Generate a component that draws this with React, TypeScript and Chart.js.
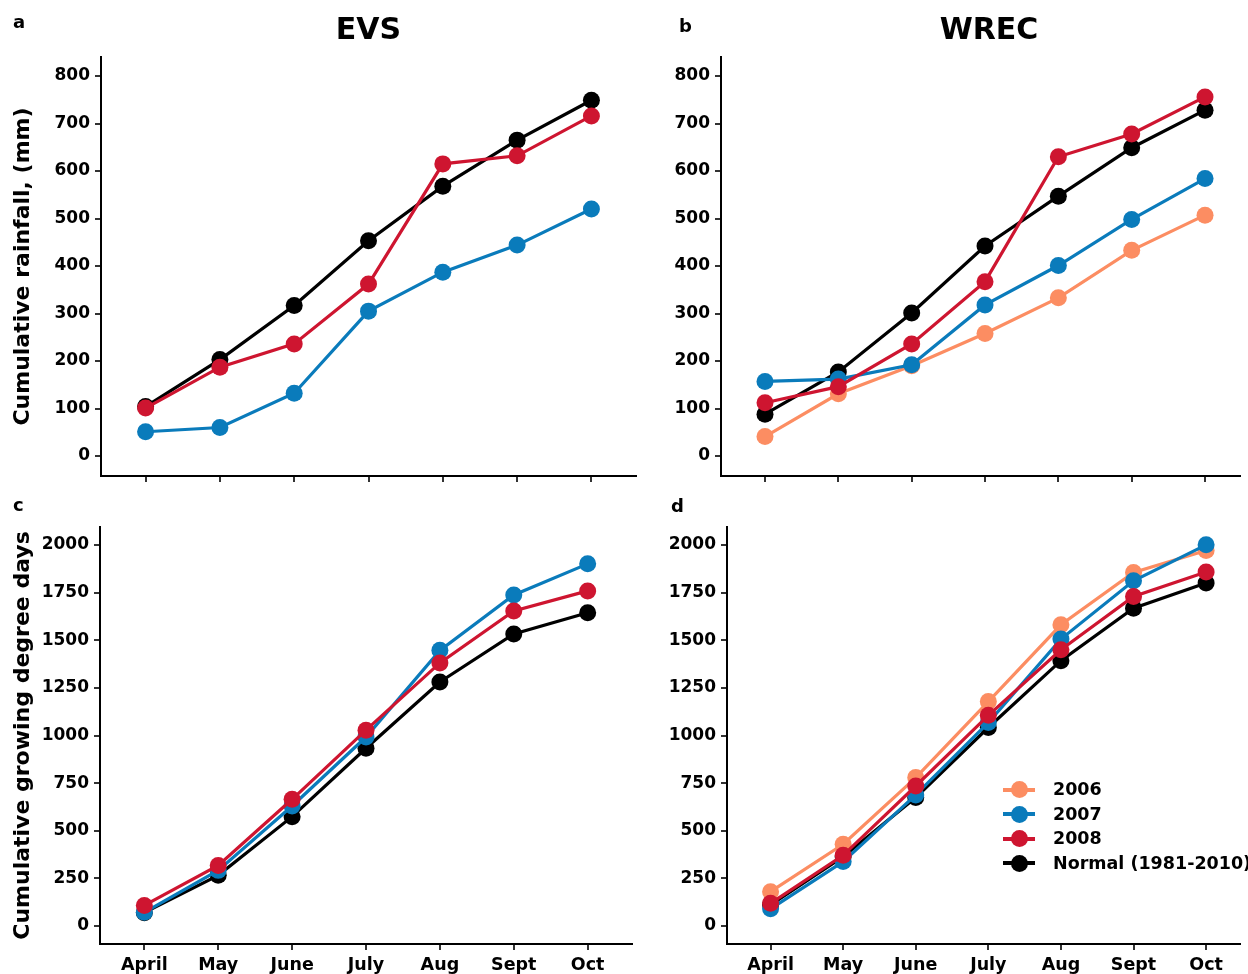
import React, { useEffect, useRef } from 'react';
import { Chart, registerables } from 'chart.js';

Chart.register(...registerables);

const months = ['April', 'May', 'June', 'July', 'Aug', 'Sept', 'Oct'];
const legendNames = ['2006', '2007', '2008', 'Normal (1981-2010)'];
const legendColors = ['#FC8D62', '#0A7BBB', '#CE1530', '#000000'];

const rainTicks = [0, 100, 200, 300, 400, 500, 600, 700, 800];
const gddTicks = [0, 250, 500, 750, 1000, 1250, 1500, 1750, 2000];

// EVS rainfall (mm)
const evsRain2007 = [51, 60, 132, 305, 387, 444, 520];
const evsRain2008 = [101, 187, 236, 362, 615, 632, 716];
const evsRainNormal = [104, 203, 317, 453, 568, 665, 749];

// WREC rainfall (mm)
const wrecRain2006 = [41, 131, 190, 258, 333, 433, 507];
const wrecRain2007 = [157, 162, 192, 318, 401, 498, 584];
const wrecRain2008 = [112, 146, 236, 367, 630, 678, 756];
const wrecRainNormal = [88, 177, 301, 442, 547, 649, 728];

// EVS growing degree days
const evsGdd2007 = [72, 292, 630, 992, 1447, 1738, 1901];
const evsGdd2008 = [108, 318, 665, 1028, 1381, 1654, 1759];
const evsGddNormal = [70, 266, 574, 933, 1281, 1533, 1644];

// WREC growing degree days
const wrecGdd2006 = [180, 429, 779, 1178, 1581, 1856, 1971];
const wrecGdd2007 = [90, 338, 688, 1068, 1506, 1812, 2001];
const wrecGdd2008 = [119, 371, 735, 1106, 1450, 1730, 1858];
const wrecGddNormal = [110, 364, 674, 1042, 1393, 1668, 1800];

const FONT = 'DejaVu Sans';

type Series = { name: string; color: string; values: number[] };

type PanelProps = {
  series: Series[]; // first = drawn on top
  yTicks: number[];
  yMin: number;
  yMax: number;
  xMax: number;
  pad: { left: number; top: number; right: number; bottom: number };
  yWidth: number;
  xHeight: number;
  showXLabels: boolean;
  yTitle?: string;
};

function Panel(p: PanelProps) {
  const ref = useRef<HTMLCanvasElement>(null);
  useEffect(() => {
    const tickFont = { family: FONT, size: 17, weight: 'bold' as const };
    const chart = new Chart(ref.current!, {
      type: 'line',
      data: {
        datasets: p.series.map((s) => ({
          label: s.name,
          data: s.values.map((v, i) => ({ x: i, y: v })),
          borderColor: s.color,
          backgroundColor: s.color,
          pointBackgroundColor: s.color,
          pointBorderWidth: 0,
          pointRadius: 8.5,
          borderWidth: 3.2,
          tension: 0,
          clip: false as any,
        })),
      },
      options: {
        animation: false,
        responsive: false,
        maintainAspectRatio: false,
        events: [],
        layout: { padding: p.pad },
        plugins: {
          legend: { display: false },
          tooltip: { enabled: false },
          title: { display: false },
        },
        scales: {
          x: {
            type: 'linear',
            min: -0.6,
            max: p.xMax,
            afterBuildTicks: (s: any) => {
              s.ticks = months.map((_, i) => ({ value: i }));
            },
            afterFit: (s: any) => {
              s.height = p.xHeight;
            },
            ticks: {
              display: p.showXLabels,
              autoSkip: false,
              maxRotation: 0,
              padding: 5,
              color: '#000',
              font: { family: FONT, size: 17.5, weight: 'bold' as const },
              callback: (v: any) => months[Number(v)] ?? '',
            },
            grid: {
              drawOnChartArea: false,
              drawTicks: true,
              tickLength: 6,
              color: '#333',
              lineWidth: 2,
            },
            border: { display: true, color: '#000', width: 2 },
          },
          y: {
            type: 'linear',
            min: p.yMin,
            max: p.yMax,
            afterBuildTicks: (s: any) => {
              s.ticks = p.yTicks.map((v) => ({ value: v }));
            },
            afterFit: (s: any) => {
              s.width = p.yWidth;
            },
            ticks: {
              padding: 5,
              color: '#000',
              font: tickFont,
              callback: (v: any) => String(v),
            },
            grid: {
              drawOnChartArea: false,
              drawTicks: true,
              tickLength: 6,
              color: '#333',
              lineWidth: 2,
            },
            border: { display: true, color: '#000', width: 2 },
            title: p.yTitle
              ? {
                  display: true,
                  text: p.yTitle,
                  color: '#000',
                  font: { family: FONT, size: 22, weight: 'bold', lineHeight: 1 },
                  padding: { top: 12, bottom: 0 },
                }
              : { display: false },
          },
        },
      },
    });
    return () => chart.destroy();
  }, []);
  return (
    <canvas
      ref={ref}
      width={1248}
      height={974}
      style={{ position: 'absolute', left: 0, top: 0, width: 1248, height: 974 }}
    />
  );
}

const S = (i: number, values: number[]): Series => ({
  name: legendNames[i],
  color: legendColors[i],
  values,
});

const textBase: React.CSSProperties = {
  position: 'absolute',
  fontFamily: FONT,
  fontWeight: 'bold',
  color: '#000',
  whiteSpace: 'nowrap',
  margin: 0,
};

function Label({ text, left, top, size, center }: { text: string; left: number; top: number; size: number; center?: boolean }) {
  return (
    <div
      style={{
        ...textBase,
        left,
        top,
        fontSize: size,
        lineHeight: `${size}px`,
        transform: center ? 'translateX(-50%)' : undefined,
      }}
    >
      {text}
    </div>
  );
}

function Legend() {
  const rowY = [789.5, 814, 838.5, 863];
  return (
    <>
      {legendNames.map((n, i) => (
        <React.Fragment key={n}>
          <div
            style={{
              position: 'absolute',
              left: 1003,
              top: rowY[i] - 2,
              width: 32,
              height: 4,
              background: legendColors[i],
            }}
          />
          <div
            style={{
              position: 'absolute',
              left: 1019 - 8.5,
              top: rowY[i] - 8.5,
              width: 17,
              height: 17,
              borderRadius: '50%',
              background: legendColors[i],
            }}
          />
          <Label text={n} left={1053} top={rowY[i] - 8.2} size={17.5} />
        </React.Fragment>
      ))}
    </>
  );
}

export default function App() {
  return (
    <div
      style={{
        position: 'fixed',
        left: 0,
        top: 0,
        width: 1248,
        height: 974,
        overflow: 'hidden',
        background: '#fff',
      }}
    >
      <Panel
        series={[S(2, evsRain2008), S(1, evsRain2007), S(3, evsRainNormal)]}
        yTicks={rainTicks}
        yMin={-42.1}
        yMax={840}
        xMax={6.6}
        pad={{ left: 0, top: 57, right: 612, bottom: 458 }}
        yWidth={101}
        xHeight={40}
        showXLabels={false}
        yTitle="Cumulative rainfall, (mm)"
      />
      <Panel
        series={[S(2, wrecRain2008), S(1, wrecRain2007), S(0, wrecRain2006), S(3, wrecRainNormal)]}
        yTicks={rainTicks}
        yMin={-42.1}
        yMax={840}
        xMax={6.47}
        pad={{ left: 621, top: 57, right: 0, bottom: 458 }}
        yWidth={100}
        xHeight={40}
        showXLabels={false}
      />
      <Panel
        series={[S(2, evsGdd2008), S(1, evsGdd2007), S(3, evsGddNormal)]}
        yTicks={gddTicks}
        yMin={-94.5}
        yMax={2094.5}
        xMax={6.6}
        pad={{ left: 0, top: 527, right: 616, bottom: 0 }}
        yWidth={100}
        xHeight={30}
        showXLabels={true}
        yTitle="Cumulative growing degree days"
      />
      <Panel
        series={[S(2, wrecGdd2008), S(1, wrecGdd2007), S(0, wrecGdd2006), S(3, wrecGddNormal)]}
        yTicks={gddTicks}
        yMin={-94.5}
        yMax={2094.5}
        xMax={6.46}
        pad={{ left: 627, top: 527, right: 0, bottom: 0 }}
        yWidth={100}
        xHeight={30}
        showXLabels={true}
      />
      <Label text="EVS" left={368.5} top={13.6} size={30} center />
      <Label text="WREC" left={989} top={13.6} size={30} center />
      <Label text="a" left={13} top={13} size={18} />
      <Label text="b" left={679} top={16.5} size={18} />
      <Label text="c" left={13} top={495.5} size={18} />
      <Label text="d" left={671} top={496.5} size={18} />
      <Legend />
    </div>
  );
}
